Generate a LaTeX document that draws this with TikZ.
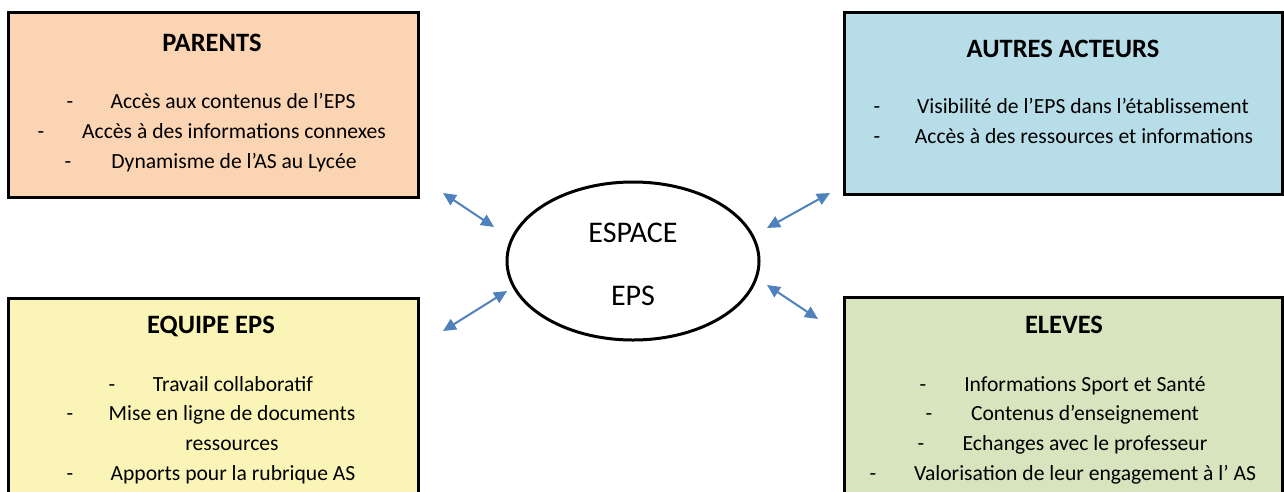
\documentclass[tikz,border=0pt]{standalone}
\usepackage{fontspec}
\setmainfont{Carlito}
\usetikzlibrary{arrows.meta,shapes.geometric}
\definecolor{parentfill}{RGB}{251,212,180}
\definecolor{autresfill}{RGB}{183,221,232}
\definecolor{equipefill}{RGB}{250,245,183}
\definecolor{elevesfill}{RGB}{215,228,189}
\definecolor{arrowblue}{RGB}{79,129,189}
\tikzset{
  box/.style={draw=black, line width=3pt, inner sep=0pt, outer sep=0pt, anchor=north west},
  ttl/.style={font=\fontsize{26.5}{30}\selectfont\bfseries, inner sep=0pt, anchor=base},
  item/.style={font=\fontsize{21.6}{26}\selectfont, inner sep=0pt, anchor=base},
  hy/.style={font=\fontsize{21.6}{26}\selectfont, inner sep=0pt, anchor=base},
  oval/.style={draw=black, line width=3pt, ellipse, minimum width=252pt, minimum height=158pt, inner sep=0pt},
  etxt/.style={font=\fontsize{30}{32}\selectfont, inner sep=0pt, anchor=base},
  dbl/.style={draw=arrowblue, line width=2pt, {Triangle[length=13pt,width=12pt]}-{Triangle[length=13pt,width=12pt]}}
}
\begin{document}
\begin{tikzpicture}[x=1pt,y=-1pt]
\useasboundingbox (0,0) rectangle (1284,491);
\clip (0,0) rectangle (1284,491);
% boxes
\node[box, fill=parentfill, minimum width=410pt, minimum height=185pt] (parents) at (8,12) {};
\node[box, fill=autresfill, minimum width=438pt, minimum height=182pt] (autres) at (844,12) {};
\node[box, fill=equipefill, minimum width=410pt, minimum height=220pt] (equipe) at (8,298) {};
\node[box, fill=elevesfill, minimum width=438pt, minimum height=220pt] (eleves) at (844,297) {};
% PARENTS
\node[ttl] (pt) at (212,51) {PARENTS};
\node[hy] (p1d) at (70,108) {-};
\node[item] (p1) at (233,108) {Accès aux contenus de l’EPS};
\node[hy] (p2d) at (41,138) {-};
\node[item] (p2) at (234,138) {Accès à des informations connexes};
\node[hy] (p3d) at (68,168) {-};
\node[item] (p3) at (234,168) {Dynamisme de l’AS au Lycée};
% AUTRES ACTEURS
\node[ttl] (at) at (1063,57) {AUTRES ACTEURS};
\node[hy] (a1d) at (877,113) {-};
\node[item] (a1) at (1083,113) {Visibilité de l’EPS dans l’établissement};
\node[hy] (a2d) at (877,143) {-};
\node[item] (a2) at (1084,143) {Accès à des ressources et informations};
% EQUIPE EPS
\node[ttl] (et) at (211,333) {EQUIPE EPS};
\node[hy] (e1d) at (112,391) {-};
\node[item] (e1) at (233,391) {Travail collaboratif};
\node[hy] (e2d) at (70,420) {-};
\node[item] (e2) at (232,420) {Mise en ligne de documents};
\node[item] (e3) at (232,450) {ressources};
\node[hy] (e4d) at (70,480) {-};
\node[item] (e4) at (233,480) {Apports pour la rubrique AS};
% ELEVES
\node[ttl] (lt) at (1064,333) {ELEVES};
\node[hy] (l1d) at (923,391) {-};
\node[item] (l1) at (1085,391) {Informations Sport et Santé};
\node[hy] (l2d) at (929,420) {-};
\node[item] (l2) at (1085,420) {Contenus d’enseignement};
\node[hy] (l3d) at (921,450) {-};
\node[item] (l3) at (1085,450) {Echanges avec le professeur};
\node[hy] (l4d) at (873,480) {-};
\node[item] (l4) at (1085,480) {Valorisation de leur engagement à l’ AS};
% ellipse
\node[oval] (esp) at (633,261) {};
\node[etxt] (esp1) at (633,242) {ESPACE};
\node[etxt] (esp2) at (633,305) {EPS};
% arrows
\coordinate (ptl1) at (443,193);
\coordinate (ptl2) at (494,227);
\coordinate (pbl1) at (443,331);
\coordinate (pbl2) at (507,291);
\coordinate (ptr1) at (767,228);
\coordinate (ptr2) at (830,193);
\coordinate (pbr1) at (767,285);
\coordinate (pbr2) at (818,319);
\draw[dbl] (ptl1) -- (ptl2);
\draw[dbl] (pbl1) -- (pbl2);
\draw[dbl] (ptr1) -- (ptr2);
\draw[dbl] (pbr1) -- (pbr2);
\end{tikzpicture}
\end{document}
